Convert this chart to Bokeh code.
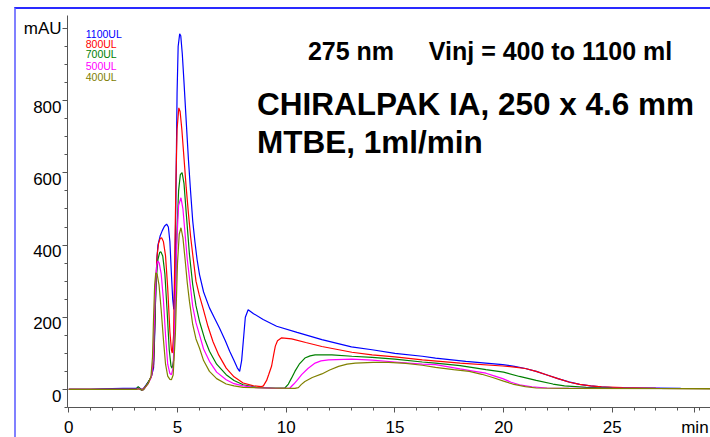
from bokeh.plotting import figure
from bokeh.models import FixedTicker, Label
from bokeh.embed import file_html
from bokeh.resources import INLINE

# ---------------- data ----------------
series_labels = ["1100UL", "800UL", "700UL", "500UL", "400UL"]

t_1100 = [0.0, 1.0, 1.5, 2.5, 3.1, 3.2, 3.3, 3.4, 3.5, 3.65, 3.8, 3.9, 3.95, 4.0, 4.05,
          4.1, 4.2, 4.3, 4.4, 4.5, 4.58, 4.65, 4.72, 4.78, 4.83, 4.88, 4.93, 4.98, 5.03, 5.1,
          5.15, 5.22, 5.3, 5.4, 5.5, 5.6, 5.7, 5.8, 5.9, 6.01, 6.2, 6.47, 6.7, 6.93, 7.2,
          7.4, 7.6, 7.75, 7.86, 7.95, 8.05, 8.12, 8.25, 8.5, 8.94, 9.33, 9.56, 10.5, 11.64, 13.0,
          13.95, 15.0, 16.26, 16.87, 18.26, 19.96, 20.5, 21.0, 21.5, 22.0, 22.5, 23.0, 23.5, 24.0, 24.5,
          25.0, 26.0, 27.0, 28.15]
y_1100 = [0, 0, 2, 3, 3, 6, 2, 0, 8, 20, 36, 60, 150, 280, 360,
          400, 425, 440, 452, 458, 450, 410, 320, 250, 222, 300, 550, 820, 950, 985,
          980, 930, 850, 744, 640, 550, 467, 410, 360, 319, 270, 226, 198, 170, 135,
          106, 80, 60, 50, 80, 150, 200, 221, 210, 194, 182, 175, 158, 138, 118,
          110, 100, 92, 87, 78, 69, 64, 58, 50, 40, 30, 21, 14, 10, 7,
          5, 4, 4, 3]

t_800 = [0.0, 3.1, 3.2, 3.3, 3.4, 3.5, 3.65, 3.8, 3.9, 3.95, 4.0, 4.06, 4.13, 4.2, 4.27,
         4.35, 4.45, 4.55, 4.65, 4.72, 4.76, 4.82, 4.87, 4.93, 4.98, 5.06, 5.12, 5.2, 5.3, 5.4,
         5.5, 5.6, 5.7, 5.85, 6.0, 6.17, 6.4, 6.63, 6.9, 7.24, 7.6, 8.02, 8.5, 8.86,
         8.95, 9.1, 9.2, 9.33, 9.42, 9.5, 9.6, 9.79, 10.25, 10.9, 11.64, 13.02,
         13.95, 15.0, 16.26, 18.0, 19.96, 20.5, 21.0, 21.5, 22.0, 22.5,
         23.04, 23.5, 24.0, 24.5, 25.5, 27.0, 29.6]
y_800 = [0, 0, 2, 0, 0, 6, 18, 36, 70, 170, 290, 370, 405, 418, 420,
         410, 370, 280, 160, 110, 101, 150, 350, 580, 720, 780, 770, 720, 640, 559,
         490, 425, 374, 300, 262, 226, 175, 133, 95, 59, 35, 18, 10, 8,
         10, 25, 42, 65, 95, 120, 135, 143, 140, 130, 119, 103,
         96, 90, 82, 73, 65, 62, 58, 50, 40, 30,
         20, 14, 10, 7, 5, 3, 2]

t_700 = [0.0, 3.1, 3.19, 3.27, 3.35, 3.45, 3.55, 3.7, 3.8, 3.9, 3.96, 4.02, 4.1, 4.18, 4.24,
         4.32, 4.42, 4.52, 4.62, 4.7, 4.75, 4.82, 4.9, 4.97, 5.05, 5.13, 5.21, 5.3, 5.4, 5.55,
         5.7, 5.85, 6.01, 6.25, 6.47, 6.8, 7.24, 7.6, 8.02, 8.6, 9.5, 9.94, 10.1, 10.25, 10.4,
         10.6, 10.86, 11.1, 11.33, 12.1, 13.02, 13.95, 15.0, 16.26, 16.87, 18.0, 19.19, 20.0, 20.73, 21.5,
         22.27, 22.8, 23.81, 25.0, 27.0, 29.6]
y_700 = [0, 0, 8, 3, -3, 0, 10, 25, 36, 80, 190, 300, 360, 380, 381,
         370, 320, 220, 110, 65, 59, 80, 250, 430, 550, 595, 601, 570, 490, 374,
         290, 232, 189, 140, 106, 70, 41, 25, 13, 6, 4, 4, 15, 32, 50,
         70, 87, 93, 96, 96, 92, 89, 84, 76, 73, 66, 55, 48, 36, 25,
         15, 10, 6, 4, 3, 2]

t_500 = [0.0, 3.1, 3.2, 3.3, 3.4, 3.5, 3.65, 3.8, 3.88, 3.94, 4.0, 4.05, 4.1, 4.16, 4.25,
         4.35, 4.45, 4.55, 4.65, 4.72, 4.8, 4.88, 4.96, 5.05, 5.16, 5.25, 5.35, 5.45, 5.55, 5.7,
         5.85, 6.01, 6.2, 6.47, 6.8, 7.24, 7.6, 8.02, 8.6, 9.5, 10.17, 10.35, 10.5, 10.71, 11.0,
         11.33, 11.6, 11.95, 13.02, 13.95, 15.0, 16.26, 16.87, 18.0, 18.6, 19.19, 19.6, 19.96, 20.35, 20.73,
         21.3, 22.0, 24.0, 27.2]
y_500 = [0, 0, 3, 0, -2, 4, 16, 35, 80, 200, 300, 345, 356, 350, 320,
         250, 150, 70, 44, 41, 60, 200, 400, 510, 531, 500, 430, 360, 309, 230,
         185, 152, 112, 78, 48, 27, 16, 10, 5, 3, 4, 15, 25, 41, 58,
         73, 79, 82, 84, 81, 76, 70, 69, 57, 51, 45, 37, 30, 20, 13,
         7, 4, 3, 3]

t_400 = [0.0, 3.1, 3.2, 3.3, 3.4, 3.5, 3.65, 3.78, 3.85, 3.9, 3.95, 4.0, 4.06, 4.15, 4.25,
         4.35, 4.45, 4.55, 4.65, 4.72, 4.8, 4.9, 5.0, 5.08, 5.16, 5.25, 5.35, 5.45, 5.55, 5.7,
         5.85, 6.01, 6.2, 6.47, 6.8, 7.24, 7.6, 8.02, 9.0, 10.4, 10.56, 10.7, 10.86, 11.2, 11.64,
         12.0, 12.41, 12.8, 13.18, 14.0, 14.72, 15.5, 16.26, 16.87, 17.7, 18.42, 19.0, 19.5, 20.0, 20.42,
         21.0, 21.5, 23.0, 29.6]
y_400 = [0, 0, 2, 0, -2, 5, 16, 36, 90, 200, 290, 323, 320, 290, 220,
         140, 70, 37, 28, 27, 40, 150, 350, 430, 448, 420, 360, 295, 244, 180,
         140, 115, 80, 50, 30, 15, 10, 6, 4, 3, 5, 14, 22, 33, 43,
         54, 64, 70, 73, 75, 75, 72, 67, 61, 55, 50, 42, 33, 23, 15,
         8, 4, 3, 2]

x_major_ticks = [0, 5, 10, 15, 20, 25, 28.8]
x_tick_labels = {0: "0", 5: "5", 10: "10", 15: "15", 20: "20", 25: "25", 28.8: "min"}
x_minor_ticks = [1, 2, 3, 4, 6, 7, 8, 9, 11, 12, 13, 14, 16, 17, 18, 19, 21, 22, 23, 24, 26, 27, 28, 29]
y_major_ticks = [0, 200, 400, 600, 800, 1000]
y_tick_labels = {0: "0", 200: "200", 400: "400", 600: "600", 800: "800", 1000: "mAU"}
y_minor_ticks = [-50, 50, 100, 150, 250, 300, 350, 450, 500, 550, 650, 700, 750, 850, 900, 950]

title_line = "275 nm\u00a0\u00a0\u00a0\u00a0\u00a0Vinj = 400 to 1100 ml"
column_line = "CHIRALPAK IA, 250 x 4.6 mm"
eluent_line = "MTBE, 1ml/min"

# ---------------- styles ----------------
colors = ["#0000ff", "#ff0000", "#008000", "#ff00ff", "#808000"]
FONT = "Liberation Sans"

p = figure(width=696, height=430, output_backend="svg", toolbar_location=None,
           x_range=(-0.06, 29.61), y_range=(-50, 1036),
           min_border_left=51, min_border_right=0, min_border_top=6, min_border_bottom=31)
p.styles = {"box-sizing": "border-box", "margin-left": "14px", "margin-top": "7px",
            "border-left": "2px solid #8080ff", "border-top": "2px solid #2a2aff"}
p.outline_line_color = None
p.grid.visible = False
p.background_fill_color = "white"
p.border_fill_color = "white"

series = [(t_1100, y_1100), (t_800, y_800), (t_700, y_700), (t_500, y_500), (t_400, y_400)]
for (tx, ty), c in zip(series, colors):
    p.line(tx, ty, line_color=c, line_width=1.2)

for ax in (p.xaxis[0], p.yaxis[0]):
    ax.axis_line_color = "#555555"
    ax.major_tick_line_color = "#555555"
    ax.minor_tick_line_color = "#555555"
    ax.major_tick_in = 0
    ax.minor_tick_in = 0
    ax.major_tick_out = 5
    ax.minor_tick_out = 3
    ax.major_label_text_font = FONT
    ax.major_label_text_font_size = "17px"
    ax.major_label_text_color = "black"

p.xaxis.ticker = FixedTicker(ticks=x_major_ticks, minor_ticks=x_minor_ticks)
p.yaxis.ticker = FixedTicker(ticks=y_major_ticks, minor_ticks=y_minor_ticks)
p.xaxis.major_label_overrides = x_tick_labels
p.xaxis.major_label_standoff = 5
p.yaxis.major_label_standoff = 1
# numbers sit just below their tick in the original: push them down with an empty first line
p.yaxis.major_label_overrides = {k: ("\n" + v if k != 1000 else v) for k, v in y_tick_labels.items()}
p.yaxis.major_label_text_line_height = 0.7

p.add_layout(Label(x=11.0, y=939, text=title_line, text_align="left", text_baseline="middle",
                   text_font=FONT, text_font_size="25px", text_font_style="bold", text_color="black"))
p.add_layout(Label(x=8.66, y=792, text=column_line, text_align="left", text_baseline="middle",
                   text_font=FONT, text_font_size="31.5px", text_font_style="bold", text_color="black"))
p.add_layout(Label(x=8.66, y=686, text=eluent_line, text_align="left", text_baseline="middle",
                   text_font=FONT, text_font_size="31.5px", text_font_style="bold", text_color="black"))

legend_y = [986, 957, 928, 897, 867]
for name, c, ly in zip(series_labels, colors, legend_y):
    p.add_layout(Label(x=0.78, y=ly, text=name, text_align="left", text_baseline="middle",
                       text_font=FONT, text_font_size="10.5px", text_color=c))

open("out.html", "w").write(file_html(p, INLINE))
